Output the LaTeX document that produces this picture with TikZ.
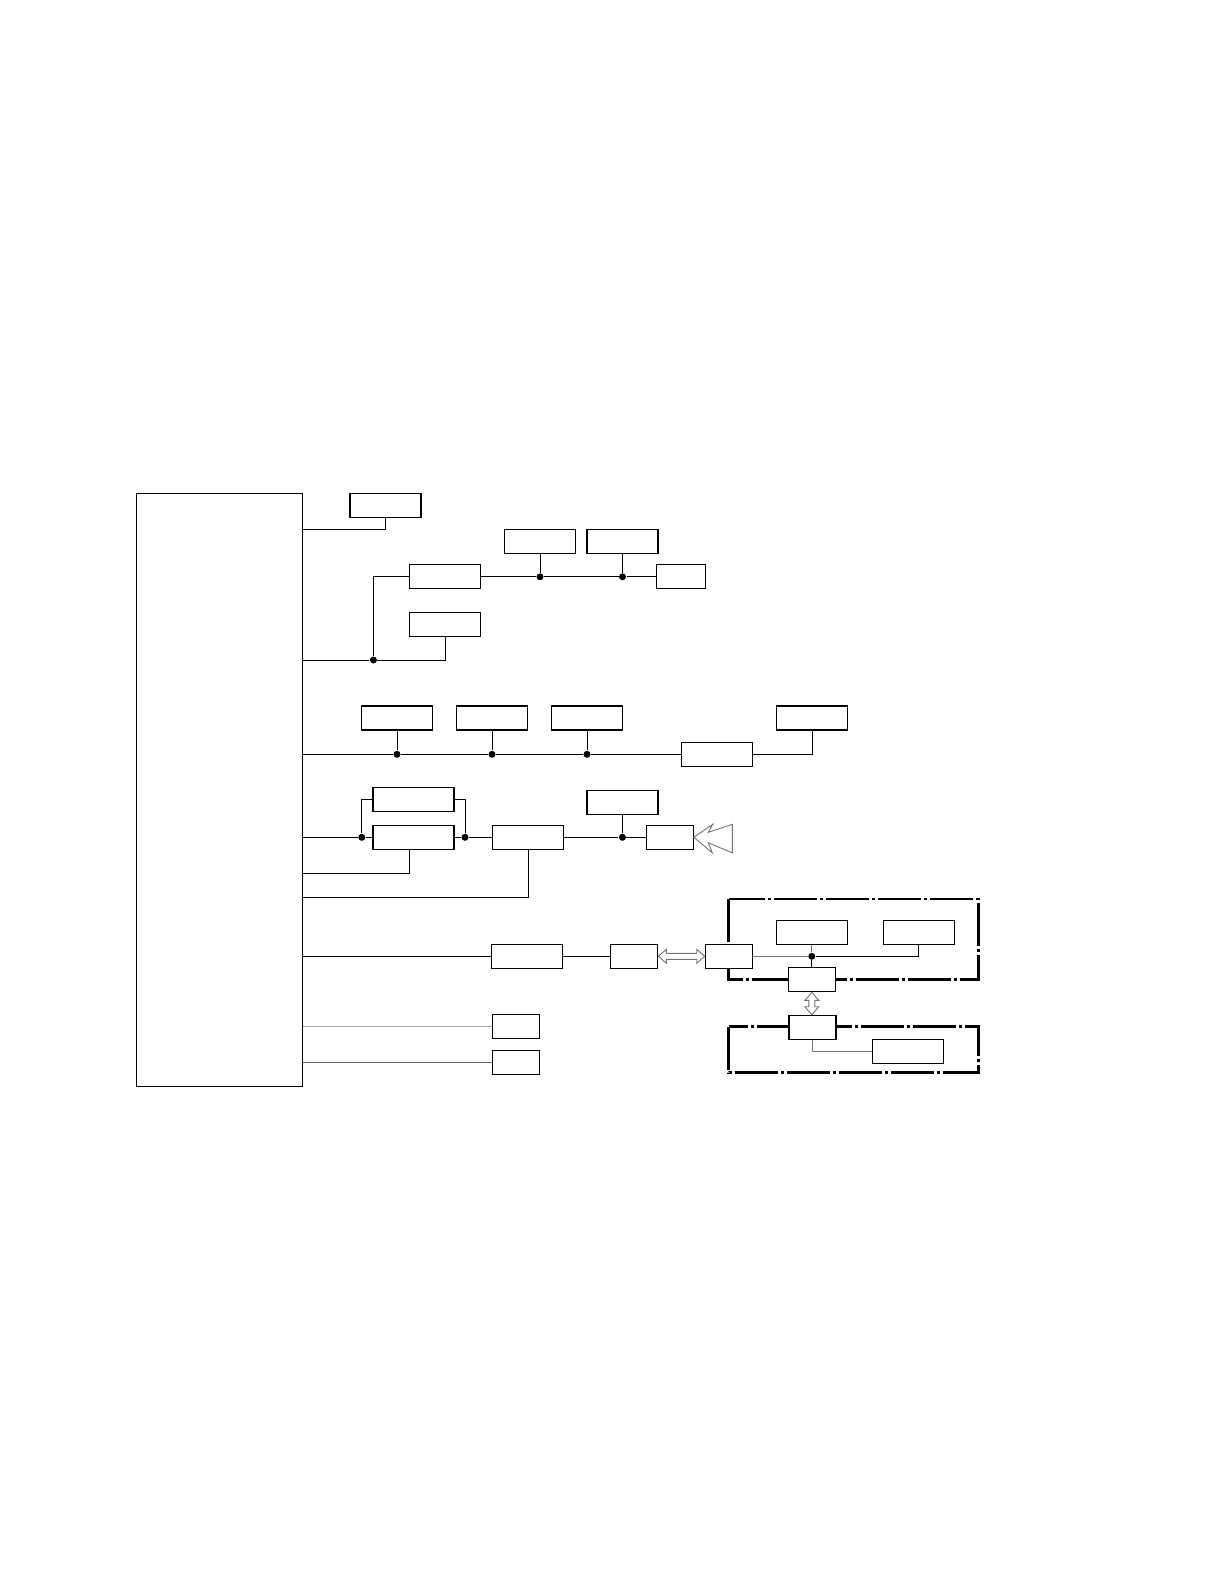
\documentclass[tikz,border=0pt]{standalone}
\usetikzlibrary{calc}

\begin{document}
\begin{tikzpicture}[x=1pt, y=-1pt, line width=1pt,
    blk/.style={draw, fill=white, line width=1.2pt, inner sep=0pt, minimum width=71pt, minimum height=24pt},
    sblk/.style={blk, minimum width=47pt},
    wblk/.style={blk, minimum width=81pt},
    unit/.style={draw, line width=2.6pt, dash pattern=on 43pt off 3pt on 3pt off 3pt},
    jn/.style={circle, fill=black, inner sep=0pt, minimum size=7pt},
    hollow/.style={draw=black!55, fill=white, line width=0.9pt, line join=miter},
    faint/.style={black!55}]
  \useasboundingbox (0,0) rectangle (1219,1587);
  % ---------------- dash-dot units ----------------
  \draw[unit] (728.7,899) rectangle (978.3,979.7);
  \draw[unit] (728.7,1026.7) rectangle (978.3,1072.7);
  % ---------------- controller ----------------
  \node[draw, line width=1.2pt, inner sep=0pt, minimum width=166pt, minimum height=593pt] (main) at (219.5,789.8) {};
  % ---------------- upper blocks ----------------
  \node[blk] (A) at (385.5,505.3) {};
  \node[blk] (B1) at (445,576.8) {};
  \node[blk] (B2) at (445,624.3) {};
  \node[blk] (C1) at (540,541.3) {};
  \node[blk] (C2) at (622.5,541.3) {};
  \node[blk, minimum width=49pt] (D) at (681,576.8) {};
  \node[blk] (E1) at (397,718) {};
  \node[blk] (E2) at (492,718) {};
  \node[blk] (E3) at (587,718) {};
  \node[blk] (F) at (717,754.3) {};
  \node[blk] (G) at (812,718) {};
  \node[wblk] (H1) at (413.5,799.3) {};
  \node[wblk] (H2) at (413.5,837.3) {};
  \node[blk] (I) at (528,837.3) {};
  \node[blk] (J) at (622.4,802.3) {};
  \node[sblk] (K) at (669.7,837.3) {};
  % ---------------- lower blocks ----------------
  \node[blk] (L) at (527.3,956.3) {};
  \node[sblk] (M) at (634.3,956.3) {};
  \node[sblk] (N) at (728.8,956.3) {};
  \node[blk] (O1) at (811.8,932.3) {};
  \node[blk] (O2) at (918.8,932.3) {};
  \node[sblk] (P) at (811.8,979.8) {};
  \node[sblk] (Q) at (812.5,1027.3) {};
  \node[blk] (R) at (907.8,1051.3) {};
  \node[sblk] (S1) at (515.8,1026.8) {};
  \node[sblk] (S2) at (515.8,1062.3) {};
  % ---------------- junctions ----------------
  \node[jn] (jc1) at (C1.south |- B1) {};
  \node[jn] (jc2) at (C2.south |- B1) {};
  \node[jn] (jb) at (373.4,660) {};
  \node[jn] (je1) at (E1.south |- F) {};
  \node[jn] (je2) at (E2.south |- F) {};
  \node[jn] (je3) at (E3.south |- F) {};
  \node[jn] (jh1) at (361.8,837.3) {};
  \node[jn] (jh2) at (465,837.3) {};
  \node[jn] (jk) at (J.south |- K) {};
  \node[jn] (jo) at (O1.south |- N) {};
  % ---------------- connections ----------------
  \draw (main.east |- 0,529.3) -| (A.south);
  \draw (B1.east) -- (jc1) -- (jc2) -- (D.west);
  \draw (C1.south) -- (jc1);
  \draw (C2.south) -- (jc2);
  \draw (main.east |- jb) -- (jb) -| (B2.south);
  \draw (jb) |- (B1.west);
  \draw (main.east |- F) -- (je1) -- (je2) -- (je3) -- (F.west);
  \foreach \e/\j in {E1/je1, E2/je2, E3/je3} \draw (\e.south) -- (\j);
  \draw (F.east) -| (G.south);
  \draw (main.east |- H2) -- (jh1) -- (H2.west);
  \draw (jh1) |- (H1.west);
  \draw (H1.east) -| (jh2);
  \draw (H2.east) -- (jh2) -- (I.west);
  \draw (I.east) -- (jk) -- (K.west);
  \draw (J.south) -- (jk);
  \draw (main.east |- 0,873) -| ($(H2.south)+(-4,0)$);
  \draw (main.east |- 0,897) -| (I.south);
  \draw[hollow] (K.east) -- ++(19,-13) -- ++(-4.5,8) -- ++(24,-8) -- ++(0,28.5) -- ++(-24,-10) -- ++(4,10) -- cycle;
  \draw (main.east |- L) -- (L.west);
  \draw (L.east) -- (M.west);
  \draw[hollow] (M.east) -- ++(8,-7) -- ++(0,4) -- ($(N.west)+(-8,-3)$) -- ++(0,-4) -- (N.west)
       -- ++(-8,7) -- ++(0,-4) -- ($(M.east)+(8,3)$) -- ++(0,4) -- cycle;
  \draw[faint] (N.east) -- (jo);
  \draw[faint] (O1.south) -- (jo);
  \draw (jo) -| (O2.south);
  \draw (jo) -- (P.north);
  \draw[hollow] (P.south) -- ++(7,8) -- ++(-4,0) -- ($(P.south |- Q.north)+(3,-8)$) -- ++(4,0) -- (P.south |- Q.north)
       -- ++(-7,-8) -- ++(4,0) -- ($(P.south)+(-3,8)$) -- ++(-4,0) -- cycle;
  \draw[faint] (Q.south) |- (R.west);
  \draw[black!35] (main.east |- S1) -- (S1.west);
  \draw[black!60] (main.east |- S2) -- (S2.west);
\end{tikzpicture}
\end{document}
